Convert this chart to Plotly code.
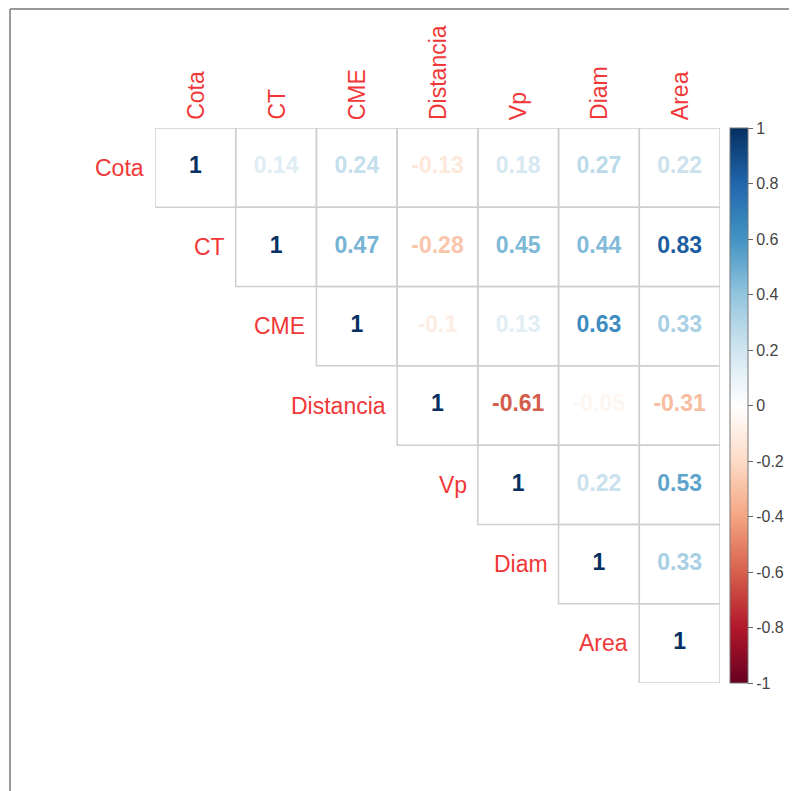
import plotly.graph_objects as go
from plotly.colors import sample_colorscale

variables = ["Cota", "CT", "CME", "Distancia", "Vp", "Diam", "Area"]
# upper triangle rows (starting at the diagonal)
corr_rows = [
    [1, 0.14, 0.24, -0.13, 0.18, 0.27, 0.22],
    [1, 0.47, -0.28, 0.45, 0.44, 0.83],
    [1, -0.1, 0.13, 0.63, 0.33],
    [1, -0.61, -0.05, -0.31],
    [1, 0.22, 0.53],
    [1, 0.33],
    [1],
]
bar_ticks = [1, 0.8, 0.6, 0.4, 0.2, 0, -0.2, -0.4, -0.6, -0.8, -1]
bar_ticktext = ["1", "0.8", "0.6", "0.4", "0.2", "0", "-0.2", "-0.4", "-0.6", "-0.8", "-1"]

rdbu = ["#67001F", "#B2182B", "#D6604D", "#F4A582", "#FDDBC7", "#FFFFFF",
        "#D1E5F0", "#92C5DE", "#4393C3", "#2166AC", "#053061"]
cscale = [[i / (len(rdbu) - 1), c] for i, c in enumerate(rdbu)]

FONT = "Liberation Sans, Arial, sans-serif"

xs, ys, txt, cols = [], [], [], []
for i, row in enumerate(corr_rows):
    for k, v in enumerate(row):
        j = i + k
        xs.append(j)
        ys.append(i)
        txt.append("1" if v == 1 else f"{v:g}")
        cols.append(sample_colorscale(cscale, [(v + 1) / 2])[0])

fig = go.Figure()

# cell borders
for i, row in enumerate(corr_rows):
    for k in range(len(row)):
        j = i + k
        fig.add_shape(type="rect", x0=j - 0.5, x1=j + 0.5, y0=i - 0.5, y1=i + 0.5,
                      xref="x", yref="y", line=dict(color="#CFCFCF", width=1.5),
                      fillcolor="rgba(0,0,0,0)", layer="below")

fig.add_trace(go.Scatter(
    x=xs, y=ys, mode="text", text=txt,
    textfont=dict(family=FONT, size=23, color=cols, weight="bold"),
    textposition="middle center", hoverinfo="skip", showlegend=False))

# colorbar
fig.add_trace(go.Scatter(
    x=[None], y=[None], mode="markers",
    marker=dict(color=[0], cmin=-1, cmax=1, colorscale=cscale, showscale=True,
                colorbar=dict(x=1.018, xanchor="left", y=0.5, yanchor="middle",
                              len=1.0, lenmode="fraction", thickness=18,
                              outlinewidth=1, outlinecolor="#777",
                              tickvals=bar_ticks, ticktext=bar_ticktext,
                              ticks="outside", ticklen=5, tickcolor="#666",
                              tickfont=dict(family=FONT, size=16, color="#444"),
                              xpad=0, ypad=0)),
    showlegend=False, hoverinfo="skip"))

# column labels
for j, name in enumerate(variables):
    fig.add_annotation(x=j, y=-0.5, xref="x", yref="y", text=name, showarrow=False,
                       textangle=-90, yanchor="bottom", yshift=6,
                       font=dict(family=FONT, size=23, color="#F03838"))
# row labels
for i, name in enumerate(variables):
    fig.add_annotation(x=i - 0.5, y=i, xref="x", yref="y", text=name, showarrow=False,
                       xanchor="right", xshift=-9,
                       font=dict(family=FONT, size=23, color="#F03838"))

# outer frame (top and left)
fig.add_shape(type="line", xref="paper", yref="paper", x0=-0.2566, x1=1.2, y0=1.2144, y1=1.2144,
              line=dict(color="#999", width=2))
fig.add_shape(type="line", xref="paper", yref="paper", x0=-0.2566, x1=-0.2566, y0=1.2144, y1=-0.3,
              line=dict(color="#999", width=2))

fig.update_layout(
    width=797, height=791,
    margin=dict(l=147, r=85, t=120, b=116),
    paper_bgcolor="white", plot_bgcolor="white",
    xaxis=dict(range=[-0.5, 6.5], visible=False, fixedrange=True),
    yaxis=dict(range=[6.5, -0.5], visible=False, fixedrange=True),
)

fig.write_html("out.html")
